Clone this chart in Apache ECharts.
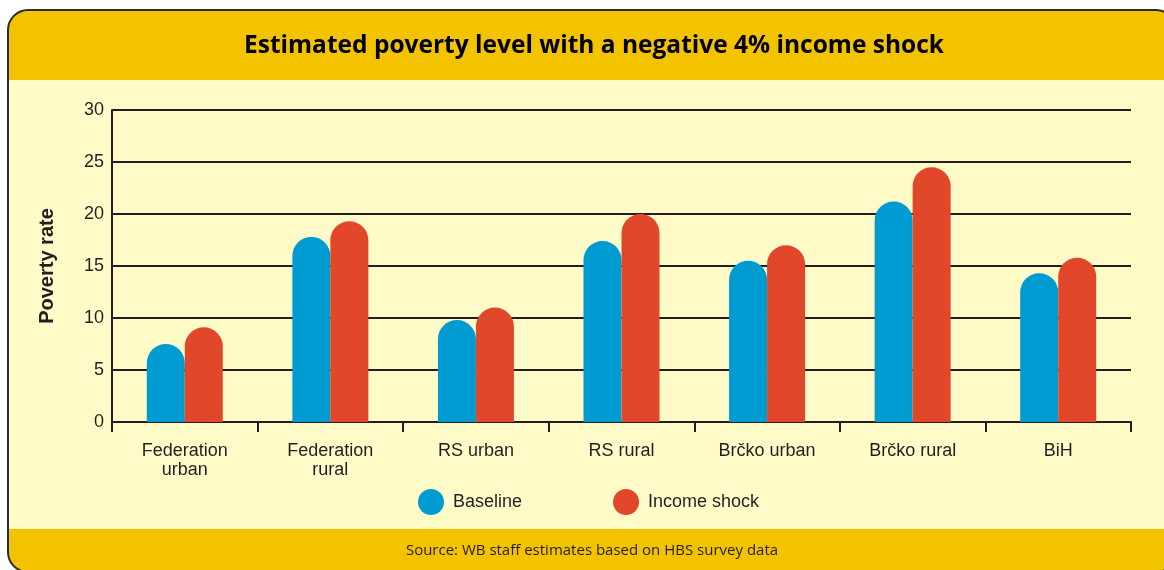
<!DOCTYPE html>
<html>
<head>
<meta charset="utf-8">
<script src="https://cdn.jsdelivr.net/npm/echarts@6/dist/echarts.min.js"></script>
<style>
  html, body { margin: 0; padding: 0; background: #ffffff; }
  #chart { width: 1164px; height: 570px; }
</style>
</head>
<body>
<div id="chart"></div>
<script>
// Poverty rate by region, before and after a negative 4% income shock
const categories = ['Federation\nurban', 'Federation\nrural', 'RS urban', 'RS rural', 'Brčko urban', 'Brčko rural', 'BiH'];
const baseline = [7.5, 17.8, 9.8, 17.4, 15.5, 21.2, 14.3];
const incomeShock = [9.1, 19.3, 11.0, 20.0, 17.0, 24.5, 15.8];
const yTicks = { min: 0, max: 30, interval: 5 };

const titleText = 'Estimated poverty level with a negative 4% income shock';
const sourceText = 'Source: WB staff estimates based on HBS survey data';

const INK = '#231F20';
const BLUE = '#009BD0';
const RED = '#E04829';
const PANEL = '#FFFBC8';
const BAND = '#F3C300';
const FONT = '"Liberation Sans", Arial, sans-serif';

const chart = echarts.init(document.getElementById('chart'));

// Panel frame: rounded box with a yellow header band and footer band
const frame = { x: 8, y: 10, width: 1168, height: 562, r: 20 };

chart.setOption({
  animation: false,
  backgroundColor: '#ffffff',
  textStyle: { fontFamily: FONT, color: INK },
  graphic: [
    { type: 'rect', z: -10, shape: frame, style: { fill: PANEL } },
    { type: 'rect', z: -9, shape: { x: frame.x, y: frame.y, width: frame.width, height: 70, r: [20, 20, 0, 0] },
      style: { fill: BAND } },
    { type: 'rect', z: -9, shape: { x: frame.x, y: 529, width: frame.width, height: frame.y + frame.height - 529, r: [0, 0, 20, 20] },
      style: { fill: BAND } },
    { type: 'rect', z: -8, shape: frame, style: { fill: 'none', stroke: '#2B2B2B', lineWidth: 2 } },
    { type: 'text', z: 10, x: 594, y: 46,
      style: { text: titleText, fill: '#000000', font: 'bold 24.5px "Open Sans", sans-serif',
               textAlign: 'center', textVerticalAlign: 'middle' } },
    { type: 'text', z: 10, x: 592, y: 551,
      style: { text: sourceText, fill: INK, font: '15px "Open Sans", sans-serif',
               textAlign: 'center', textVerticalAlign: 'middle' } }
  ],
  legend: {
    data: ['Baseline', 'Income shock'],
    icon: 'circle',
    itemWidth: 26,
    itemHeight: 26,
    itemGap: 91,
    left: 413,
    top: 484,
    textStyle: { fontSize: 18, color: INK, fontFamily: FONT, padding: [0, 0, 0, 4] }
  },
  grid: { left: 112, right: 33, top: 110, bottom: 148, containLabel: false },
  xAxis: {
    type: 'category',
    data: categories,
    axisLine: { lineStyle: { color: INK, width: 2 } },
    axisTick: { show: true, length: 10, interval: 0, lineStyle: { color: INK, width: 2 } },
    axisLabel: { interval: 0, fontSize: 18, color: INK, margin: 20, lineHeight: 19, fontFamily: FONT }
  },
  yAxis: {
    type: 'value',
    min: yTicks.min,
    max: yTicks.max,
    interval: yTicks.interval,
    name: 'Poverty rate',
    nameLocation: 'middle',
    nameGap: 55,
    nameTextStyle: { fontSize: 20, fontWeight: 'bold', color: INK, fontFamily: FONT },
    axisLine: { show: true, lineStyle: { color: INK, width: 2 } },
    axisTick: { show: false },
    axisLabel: { fontSize: 18, color: INK, margin: 8, fontFamily: FONT },
    splitLine: { lineStyle: { color: INK, width: 2 } }
  },
  series: [
    {
      name: 'Baseline',
      type: 'bar',
      data: baseline,
      barWidth: 38,
      barGap: '0%',
      itemStyle: { color: BLUE, borderRadius: [19, 19, 0, 0] }
    },
    {
      name: 'Income shock',
      type: 'bar',
      data: incomeShock,
      barWidth: 38,
      itemStyle: { color: RED, borderRadius: [19, 19, 0, 0] }
    }
  ]
});
</script>
</body>
</html>
